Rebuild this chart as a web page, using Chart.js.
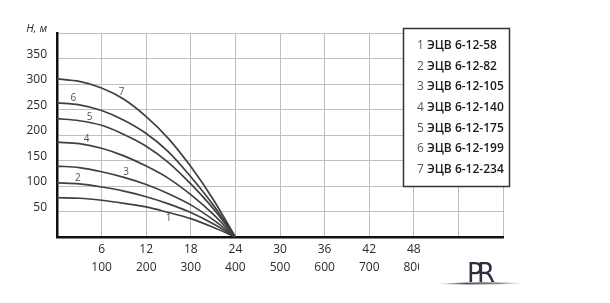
<!DOCTYPE html>
<html>
<head>
<meta charset="utf-8">
<script src="https://cdn.jsdelivr.net/npm/chart.js@4"></script>
<style>
  html, body { margin: 0; padding: 0; background: #ffffff; }
  #wrap { width: 610px; height: 303px; }
</style>
</head>
<body>
<div id="wrap"><canvas id="c" width="610" height="303"></canvas></div>
<script>
// Flow values (x, m³/h) at which the curves were read
const flow = [0, 3, 6, 9, 12, 15, 18, 21, 24];

// Head values (H, m) for each pump curve
const pump1 = [77, 76, 72, 66, 59, 48, 36, 19, 0];
const pump2 = [106, 104, 98, 90, 79, 65, 48, 26, 0];
const pump3 = [139, 136, 128, 117, 103, 85, 63, 34, 0];
const pump4 = [186, 183, 174, 159, 139, 115, 83, 45, 0];
const pump5 = [232, 228, 219, 201, 178, 146, 104, 56, 0];
const pump6 = [263, 259, 248, 229, 203, 167, 118, 63, 0];
const pump7 = [310, 305, 292, 270, 236, 193, 138, 74, 0];

const curveNumbers = ['1', '2', '3', '4', '5', '6', '7'];
const pumpNames = ['ЭЦВ 6-12-58', 'ЭЦВ 6-12-82', 'ЭЦВ 6-12-105', 'ЭЦВ 6-12-140',
                   'ЭЦВ 6-12-175', 'ЭЦВ 6-12-199', 'ЭЦВ 6-12-234'];

// Tick labels
const xTopLabels = ['6', '12', '18', '24', '30', '36', '42', '48'];
const xBottomLabels = ['100', '200', '300', '400', '500', '600', '700', '800'];
const yTickLabels = ['50', '100', '150', '200', '250', '300', '350'];
const yAxisTitle = 'H, м';

const series = [pump1, pump2, pump3, pump4, pump5, pump6, pump7];

// where each curve's number is written (flow value along the curve, and side)
const curveLabelAt = [15, 2.8, 9.3, 4.0, 4.4, 2.2, 8.7];
const curveLabelSide = [1, -1, -1, -1, -1, -1, -1];

const datasets = series.map((vals, i) => ({
  label: curveNumbers[i] + ' ' + pumpNames[i],
  data: flow.map((f, j) => ({ x: f, y: vals[j] })),
  borderColor: '#404040',
  borderWidth: 1.7,
  pointRadius: 0,
  fill: false,
  cubicInterpolationMode: 'monotone'
}));

const FONT = "'Open Sans', 'DejaVu Sans', sans-serif";

const overlayPlugin = {
  id: 'overlay',
  afterDatasetsDraw(chart) {
    const ctx = chart.ctx;
    const xs = chart.scales.x, ys = chart.scales.y;
    ctx.save();
    ctx.font = "10px " + FONT;
    ctx.fillStyle = '#555555';
    ctx.textAlign = 'center';
    ctx.textBaseline = 'middle';
    series.forEach((vals, i) => {
      const fx = curveLabelAt[i];
      let k = 0;
      while (k < flow.length - 2 && flow[k + 1] < fx) k++;
      const t = (fx - flow[k]) / (flow[k + 1] - flow[k]);
      const v = vals[k] + t * (vals[k + 1] - vals[k]);
      const px = xs.getPixelForValue(fx);
      const py = ys.getPixelForValue(v) + curveLabelSide[i] * 6;
      ctx.fillText(curveNumbers[i], px, py);
    });
    ctx.restore();
  },
  afterDraw(chart) {
    const ctx = chart.ctx;
    // legend box
    ctx.save();
    const bx = 403.5, by = 28.5, bw = 106, bh = 158;
    ctx.fillStyle = '#ffffff';
    ctx.fillRect(bx, by, bw, bh);
    ctx.strokeStyle = '#333333';
    ctx.lineWidth = 1.5;
    ctx.strokeRect(bx, by, bw, bh);
    ctx.textBaseline = 'middle';
    ctx.textAlign = 'left';
    pumpNames.forEach((name, i) => {
      const y = 45.5 + i * 20.7;
      ctx.font = "12px " + FONT;
      ctx.fillStyle = '#555555';
      ctx.fillText(curveNumbers[i], 417, y);
      const w = ctx.measureText(curveNumbers[i] + ' ').width;
      ctx.font = "600 12px " + FONT;
      ctx.fillStyle = '#1a1a1a';
      ctx.fillText(name, 417 + w, y);
    });
    ctx.restore();

    // logo area (covers end of last label like the reference)
    ctx.save();
    ctx.fillStyle = '#ffffff';
    ctx.fillRect(419, 255, 120, 40);
    const g = ctx.createLinearGradient(433, 0, 527, 0);
    g.addColorStop(0, 'rgba(90,90,100,0)');
    g.addColorStop(0.35, 'rgba(60,60,70,0.9)');
    g.addColorStop(0.7, 'rgba(90,90,100,0.7)');
    g.addColorStop(1, 'rgba(150,150,160,0)');
    ctx.fillStyle = g;
    ctx.beginPath();
    ctx.moveTo(433, 284);
    ctx.quadraticCurveTo(480, 281, 527, 283.5);
    ctx.quadraticCurveTo(480, 285, 433, 284);
    ctx.fill();
    ctx.fillStyle = '#2b3142';
    ctx.font = "26px 'DejaVu Sans', sans-serif";
    ctx.textBaseline = 'alphabetic';
    ctx.textAlign = 'left';
    ctx.fillText('P', 467, 282);
    ctx.fillText('R', 477, 282);
    ctx.restore();
  }
};

new Chart(document.getElementById('c'), {
  type: 'line',
  data: { datasets },
  options: {
    responsive: false,
    animation: false,
    layout: { padding: { left: 0, top: 33, right: 107, bottom: 0 } },
    plugins: { legend: { display: false }, tooltip: { enabled: false } },
    scales: {
      x: {
        type: 'linear',
        min: 0, max: 60,
        afterFit(scale) { scale.height = 66; },
        afterBuildTicks(scale) {
          const t = [];
          for (let i = 0; i <= 10; i++) t.push({ value: i * 6 });
          scale.ticks = t;
        },
        grid: { color: '#bfbfbf', lineWidth: 1, drawTicks: false },
        border: { display: true, color: '#111111', width: 2.5 },
        ticks: {
          autoSkip: false,
          maxRotation: 0,
          padding: 4,
          color: '#2a2a2a',
          font: { family: FONT, size: 12, lineHeight: 1.5 },
          callback(value, index) {
            const k = index - 1;
            if (k >= 0 && k < xTopLabels.length) return [xTopLabels[k], xBottomLabels[k]];
            return '';
          }
        }
      },
      y: {
        min: 0, max: 400,
        afterFit(scale) { scale.width = 57; },
        afterBuildTicks(scale) {
          const t = [];
          for (let i = 0; i <= 8; i++) t.push({ value: i * 50 });
          scale.ticks = t;
        },
        grid: { color: '#bfbfbf', lineWidth: 1, drawTicks: false },
        border: { display: true, color: '#111111', width: 2.5 },
        ticks: {
          autoSkip: false,
          padding: 10,
          labelOffset: -4,
          color: '#2a2a2a',
          font(ctx) {
            if (ctx.tick && ctx.tick.value === 400) return { family: FONT, size: 11, style: 'italic' };
            return { family: FONT, size: 12 };
          },
          callback(value, index) {
            if (index === 8) return yAxisTitle;
            const k = index - 1;
            if (k >= 0 && k < yTickLabels.length) return yTickLabels[k];
            return '';
          }
        }
      }
    }
  },
  plugins: [overlayPlugin]
});
</script>
</body>
</html>
